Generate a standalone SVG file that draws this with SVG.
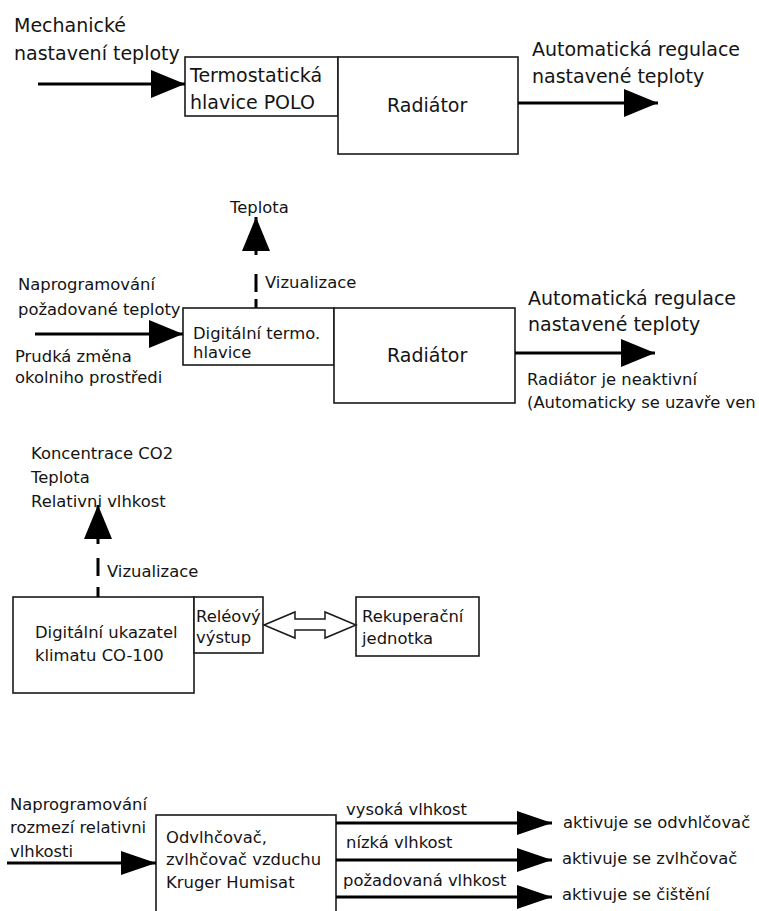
<svg xmlns="http://www.w3.org/2000/svg" width="759" height="911" viewBox="0 0 759 911">
  <defs>
    <style>
      .box { fill: #fff; stroke: #1a1a1a; stroke-width: 1.6; }
      .flow { fill: none; stroke: #000; stroke-width: 3; }
      .hollow { fill: #fff; stroke: #1a1a1a; stroke-width: 1.5; stroke-linejoin: miter; }
      text { font-family: "DejaVu Sans", "Liberation Sans", sans-serif; fill: #141414; }
      .lg { font-size: 19px; }
      .md { font-size: 16.4px; }
    </style>
    <marker id="head" viewBox="0 0 34 28" refX="34" refY="14" markerWidth="34" markerHeight="28" markerUnits="userSpaceOnUse" orient="auto">
      <path d="M0,0 L34,14 L0,28 Z" fill="#000"/>
    </marker>
    <marker id="headS" viewBox="0 0 35 24" refX="35" refY="12" markerWidth="35" markerHeight="24" markerUnits="userSpaceOnUse" orient="auto">
      <path d="M0,0 L35,12 L0,24 Z" fill="#000"/>
    </marker>
  </defs>

  <rect width="759" height="911" fill="#fff"/>

  <!-- Section 1: mechanical thermostatic head -->
  <g id="termo-polo">
    <rect class="box" x="185" y="57" width="153" height="59"/>
    <text class="lg" x="190" y="82">Termostatická</text>
    <text class="lg" x="190" y="109">hlavice POLO</text>
  </g>
  <g id="radiator-1">
    <rect class="box" x="338" y="57" width="180" height="97"/>
    <text class="lg" x="387" y="112">Radiátor</text>
  </g>

  <!-- Section 2: digital head -->
  <g id="digital-termo">
    <rect class="box" x="183" y="308" width="151" height="57"/>
    <text class="md" x="193" y="339">Digitální termo.</text>
    <text class="md" x="193" y="358">hlavice</text>
  </g>
  <g id="radiator-2">
    <rect class="box" x="334" y="308" width="181" height="95"/>
    <text class="lg" x="387" y="362">Radiátor</text>
  </g>

  <!-- Section 3: climate indicator -->
  <g id="co100">
    <rect class="box" x="13" y="597" width="181" height="96"/>
    <text class="md" x="35" y="638">Digitální ukazatel</text>
    <text class="md" x="35" y="661">klimatu CO-100</text>
  </g>
  <g id="rele">
    <rect class="box" x="194" y="597" width="69" height="56"/>
    <text class="md" x="196" y="622">Reléový</text>
    <text class="md" x="196" y="643">výstup</text>
  </g>
  <g id="rekuperace">
    <rect class="box" x="356" y="597" width="123" height="59"/>
    <text class="md" x="362" y="622">Rekuperační</text>
    <text class="md" x="362" y="644">jednotka</text>
  </g>

  <!-- Section 4: humidifier -->
  <g id="humisat">
    <rect class="box" x="156" y="815" width="180" height="110"/>
    <text class="md" x="166" y="843">Odvlhčovač,</text>
    <text class="md" x="166" y="865">zvlhčovač vzduchu</text>
    <text class="md" x="166" y="888">Kruger Humisat</text>
  </g>

  <!-- Connectors -->
  <g id="connectors">
    <path class="flow" d="M38,84 H185" marker-end="url(#head)"/>
    <path class="flow" d="M518,103 H658" marker-end="url(#head)"/>

    <path class="flow" d="M256,308 V217" stroke-dasharray="9 7 18 19 40" marker-end="url(#head)"/>
    <path class="flow" d="M35,334 H183" marker-end="url(#head)"/>
    <path class="flow" d="M515,353 H655" marker-end="url(#head)"/>

    <path class="flow" d="M98,597 V505" stroke-dasharray="10 11 18 14 45" marker-end="url(#head)"/>
    <path class="hollow" d="M264,625 L295,612 V619 H325 V612 L356,625 L325,638 V630 H295 V638 Z"/>

    <path class="flow" d="M7,863 H156" marker-end="url(#headS)"/>
    <path class="flow" d="M336,823 H552" marker-end="url(#headS)"/>
    <path class="flow" d="M336,860 H552" marker-end="url(#headS)"/>
    <path class="flow" d="M336,897 H552" marker-end="url(#headS)"/>
  </g>

  <!-- Signal labels -->
  <g id="labels">
    <text class="lg" x="14" y="32">Mechanické</text>
    <text class="lg" x="14" y="60">nastavení teploty</text>
    <text class="lg" x="532" y="56">Automatická regulace</text>
    <text class="lg" x="532" y="83">nastavené teploty</text>

    <text class="md" x="230" y="213">Teplota</text>
    <text class="md" x="265" y="288">Vizualizace</text>
    <text class="md" x="18" y="290">Naprogramování</text>
    <text class="md" x="18" y="315">požadované teploty</text>
    <text class="md" x="15" y="362">Prudká změna</text>
    <text class="md" x="15" y="383">okolniho prostředi</text>
    <text class="lg" x="528" y="305">Automatická regulace</text>
    <text class="lg" x="528" y="331">nastavené teploty</text>
    <text class="md" x="527" y="385">Radiátor je neaktivní</text>
    <text class="md" x="527" y="408">(Automaticky se uzavře ven</text>

    <text class="md" x="31" y="459">Koncentrace CO2</text>
    <text class="md" x="31" y="483">Teplota</text>
    <text class="md" x="31" y="507">Relativni vlhkost</text>
    <text class="md" x="107" y="577">Vizualizace</text>

    <text class="md" x="10" y="810">Naprogramování</text>
    <text class="md" x="10" y="833">rozmezí relativni</text>
    <text class="md" x="10" y="857">vlhkosti</text>
    <text class="md" x="346" y="815">vysoká vlhkost</text>
    <text class="md" x="346" y="848">nízká vlhkost</text>
    <text class="md" x="343" y="886">požadovaná vlhkost</text>
    <text class="md" x="563" y="828">aktivuje se odvhlčovač</text>
    <text class="md" x="562" y="864">aktivuje se zvlhčovač</text>
    <text class="md" x="562" y="900">aktivuje se čištění</text>
  </g>
</svg>
